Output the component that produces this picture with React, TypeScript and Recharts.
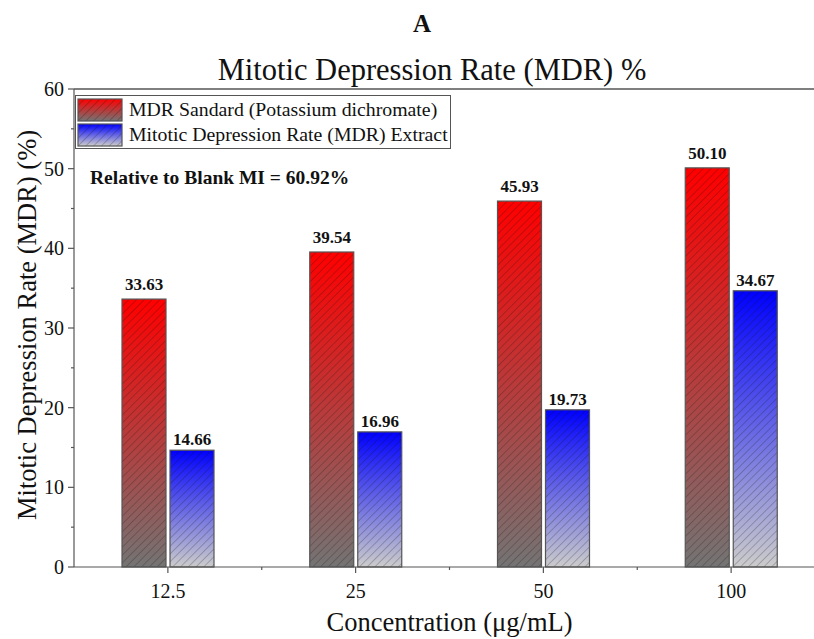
import { BarChart, Bar, XAxis, YAxis, Legend, Label, LabelList, ReferenceLine } from 'recharts'

const categories = ['12.5', '25', '50', '100']
const standardValues = [33.63, 39.54, 45.93, 50.1]
const extractValues = [14.66, 16.96, 19.73, 34.67]
const yTicks = [0, 5, 10, 15, 20, 25, 30, 35, 40, 45, 50, 55, 60]

const data = categories.map((c, i) => ({
  conc: c,
  standard: standardValues[i],
  extract: extractValues[i],
}))

const W = 830
const H = 639
const MARGIN = { top: 89, right: 5, left: 14, bottom: 8 }
const Y_W = 60
const BAND = (W - MARGIN.left - MARGIN.right - Y_W) / categories.length
const FONT = '"Liberation Serif", "Times New Roman", serif'
const AXIS = '#555'

const hatchShape = (grad: string) => (props: any) => {
  const { x, y, width, height } = props
  if (!height) return null
  return (
    <g>
      <rect x={x} y={y} width={width} height={height} fill={`url(#${grad})`} />
      <rect x={x} y={y} width={width} height={height} fill="url(#hatch)" stroke={AXIS} strokeWidth={1.2} />
    </g>
  )
}

const YTick = (props: any) => {
  const { x, y, payload } = props
  const major = payload.value % 10 === 0
  return (
    <g>
      <line x1={x} x2={x - (major ? 6 : 3)} y1={y} y2={y} stroke={AXIS} strokeWidth={1.2} />
      {major && (
        <text x={x - 10} y={y} dy="0.35em" textAnchor="end" fontSize={20} fill="#111" fontFamily={FONT}>
          {payload.value}
        </text>
      )}
    </g>
  )
}

const XTick = (props: any) => {
  const { x, y, payload } = props
  return (
    <g>
      <line x1={x} x2={x} y1={y} y2={y + 6} stroke={AXIS} strokeWidth={1.2} />
      <line x1={x + BAND / 2} x2={x + BAND / 2} y1={y} y2={y + 3} stroke={AXIS} strokeWidth={1.2} />
      <text x={x} y={y + 31} textAnchor="middle" fontSize={20} fill="#111" fontFamily={FONT}>
        {payload.value}
      </text>
    </g>
  )
}

const Swatch = ({ grad }: { grad: string }) => (
  <svg width={46} height={24} style={{ display: 'block' }}>
    <rect x={1} y={1} width={44} height={22} fill={`url(#${grad})`} />
    <rect x={1} y={1} width={44} height={22} fill="url(#hatch)" stroke={AXIS} strokeWidth={1.2} />
  </svg>
)

const legendItems = [
  { grad: 'gradRed', label: 'MDR Sandard (Potassium dichromate)' },
  { grad: 'gradBlue', label: 'Mitotic Depression Rate (MDR) Extract' },
]

const LegendBox = () => (
  <div
    style={{
      border: `1.2px solid ${AXIS}`,
      background: '#fff',
      padding: '1px 2px 1px 1px',
      fontFamily: FONT,
      fontSize: 19.8,
      color: '#111',
    }}
  >
    {legendItems.map((it) => (
      <div key={it.grad} style={{ display: 'flex', alignItems: 'center', gap: 6, height: 25 }}>
        <Swatch grad={it.grad} />
        <span style={{ whiteSpace: 'nowrap' }}>{it.label}</span>
      </div>
    ))}
  </div>
)

const YLabel = (props: any) => {
  const { x, y, height } = props.viewBox
  const cx = x + 13
  const cy = y + height / 2 - 3
  return (
    <text
      x={cx}
      y={cy}
      transform={`rotate(-90, ${cx}, ${cy})`}
      textAnchor="middle"
      dominantBaseline="central"
      fontSize={26.5}
      fill="#111"
      fontFamily={FONT}
    >
      Mitotic Depression Rate (MDR) (%)
    </text>
  )
}

export default function App() {
  return (
    <div
      style={{
        position: 'fixed',
        left: 0,
        top: 0,
        width: 814,
        height: 639,
        overflow: 'hidden',
        background: '#fff',
        fontFamily: FONT,
      }}
    >
      <BarChart width={W} height={H} data={data} margin={MARGIN} barSize={44} barGap={4}>
        <defs>
          <linearGradient id="gradRed" x1="0" y1="0" x2="0" y2="1">
            <stop offset="0%" stopColor="#ff0000" />
            <stop offset="100%" stopColor="#747474" />
          </linearGradient>
          <linearGradient id="gradBlue" x1="0" y1="0" x2="0" y2="1">
            <stop offset="0%" stopColor="#0000ff" />
            <stop offset="100%" stopColor="#cccccc" />
          </linearGradient>
          <pattern id="hatch" patternUnits="userSpaceOnUse" width={5.5} height={5.5} patternTransform="rotate(45)">
            <line x1={0} y1={0} x2={0} y2={5.5} stroke="#111" strokeWidth={0.75} strokeOpacity={0.6} />
          </pattern>
        </defs>
        <XAxis
          dataKey="conc"
          height={64}
          stroke={AXIS}
          strokeWidth={1.2}
          tickLine={false}
          tickSize={0}
          tickMargin={0}
          tick={<XTick />}
          interval={0}
        >
          <Label
            value="Concentration (μg/mL)"
            position="insideBottom"
            offset={0}
            fontSize={26.5}
            fill="#111"
            fontFamily={FONT}
          />
        </XAxis>
        <YAxis
          width={Y_W}
          domain={[0, 60]}
          ticks={yTicks}
          interval={0}
          stroke={AXIS}
          strokeWidth={1.2}
          tickLine={false}
          tickSize={0}
          tickMargin={0}
          tick={<YTick />}
        >
          <Label content={<YLabel />} />
        </YAxis>
        <ReferenceLine y={60} stroke={AXIS} strokeWidth={1.5} />
        <Legend
          layout="vertical"
          align="center"
          verticalAlign="middle"
          content={<LegendBox />}
          wrapperStyle={{ left: 75, top: 95, width: 'auto', height: 'auto' }}
        />
        <Bar dataKey="standard" name="MDR Sandard (Potassium dichromate)" shape={hatchShape('gradRed')} isAnimationActive={false}>
          <LabelList
            dataKey="standard"
            position="top"
            offset={9}
            formatter={(v: any) => Number(v).toFixed(2)}
            fontSize={17}
            fontWeight="bold"
            fill="#111"
            fontFamily={FONT}
          />
        </Bar>
        <Bar dataKey="extract" name="Mitotic Depression Rate (MDR) Extract" shape={hatchShape('gradBlue')} isAnimationActive={false}>
          <LabelList
            dataKey="extract"
            position="top"
            offset={5}
            formatter={(v: any) => Number(v).toFixed(2)}
            fontSize={17}
            fontWeight="bold"
            fill="#111"
            fontFamily={FONT}
          />
        </Bar>
      </BarChart>
      <svg width={814} height={639} style={{ position: 'absolute', left: 0, top: 0, pointerEvents: 'none' }}>
        <text x={422} y={32} textAnchor="middle" fontSize={25} fontWeight="bold" fill="#111" fontFamily={FONT}>
          A
        </text>
        <text x={432} y={80} textAnchor="middle" fontSize={30.5} fill="#111" fontFamily={FONT}>
          Mitotic Depression Rate (MDR) %
        </text>
        <text x={90} y={184} fontSize={19.5} fontWeight="bold" fill="#111" fontFamily={FONT}>
          Relative to Blank MI = 60.92%
        </text>
      </svg>
    </div>
  )
}
